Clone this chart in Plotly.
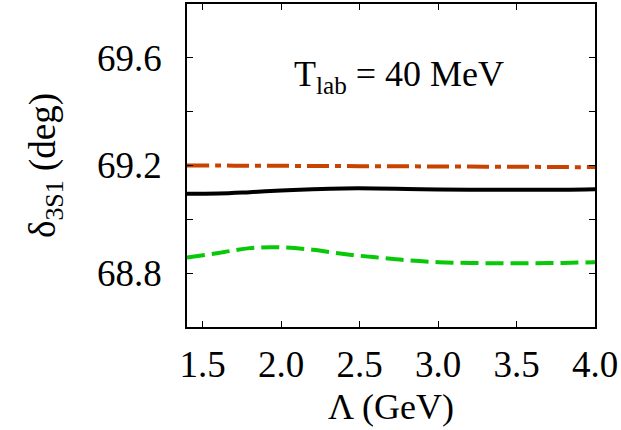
import plotly.graph_objects as go

lam = [1.4, 1.6, 1.8, 2.0, 2.2, 2.4, 2.6, 2.8, 3.0, 3.2, 3.4, 3.6, 3.8, 4.0]
black_vals = [69.095, 69.096, 69.101, 69.107, 69.112, 69.115, 69.115, 69.113,
              69.111, 69.110, 69.110, 69.110, 69.110, 69.112]
orange_vals = [69.200, 69.200, 69.199, 69.199, 69.198, 69.198, 69.197, 69.197,
               69.196, 69.196, 69.195, 69.195, 69.194, 69.194]
green_vals = [68.858, 68.875, 68.893, 68.896, 68.887, 68.871, 68.859, 68.848,
              68.841, 68.838, 68.837, 68.837, 68.838, 68.841]

xticks = [1.5, 2.0, 2.5, 3.0, 3.5, 4.0]
xticklabels = ["1.5", "2.0", "2.5", "3.0", "3.5", "4.0"]
yticks = [68.8, 69.2, 69.6]
yticklabels = ["68.8", "69.2", "69.6"]

FONT = "Liberation Serif"

fig = go.Figure()
fig.add_trace(go.Scatter(x=lam, y=orange_vals, mode="lines",
                         line=dict(color="#c84200", width=4, shape="spline",
                                   dash="22px,6px,6px,6px")))
fig.add_trace(go.Scatter(x=lam, y=black_vals, mode="lines",
                         line=dict(color="black", width=4, shape="spline")))
fig.add_trace(go.Scatter(x=lam, y=green_vals, mode="lines",
                         line=dict(color="#08c808", width=4, shape="spline",
                                   dash="18px,7px")))

fig.add_annotation(text="T<sub>lab</sub> = 40 MeV", xref="paper", yref="paper",
                   x=0.52, y=0.775, showarrow=False, xanchor="center", yanchor="middle",
                   font=dict(family=FONT, size=36, color="black"))

axis_common = dict(showgrid=False, zeroline=False, showline=True, linecolor="black",
                   linewidth=1.5, mirror="ticks", ticks="inside", ticklen=6,
                   tickcolor="black", tickwidth=1,
                   tickfont=dict(family=FONT, size=37, color="black"))

fig.update_xaxes(range=[1.4, 4.0], tickvals=xticks, ticktext=xticklabels,
                 ticklabelstandoff=4,
                 title=dict(text="Λ (GeV)", font=dict(family=FONT, size=36, color="black"),
                            standoff=10),
                 **axis_common)
fig.update_yaxes(range=[68.6, 69.8], tickvals=yticks, ticktext=yticklabels,
                 ticklabelstandoff=16,
                 minor=dict(tickvals=[68.6, 69.0, 69.4, 69.8], ticks="inside", ticklen=6,
                            tickcolor="black"),
                 title=dict(text="δ<sub>3S1</sub> (deg)",
                            font=dict(family=FONT, size=37, color="black"), standoff=30),
                 **axis_common)

fig.update_layout(width=621, height=430, showlegend=False,
                  margin=dict(l=187, r=26, t=2, b=103),
                  paper_bgcolor="white", plot_bgcolor="white")

fig.write_html("out.html")
